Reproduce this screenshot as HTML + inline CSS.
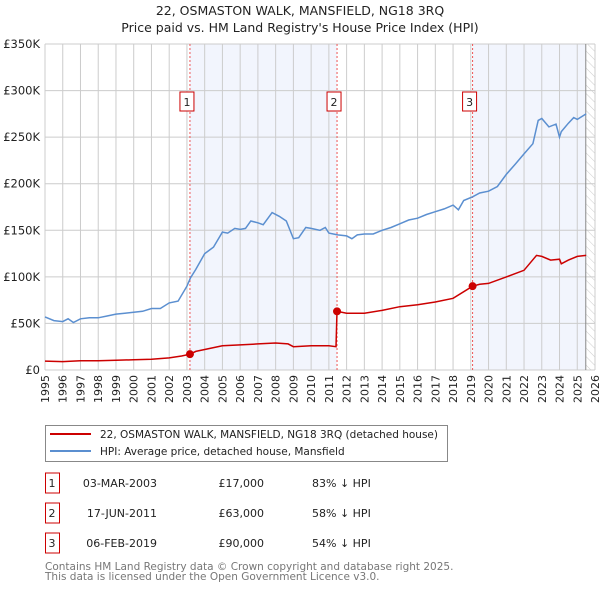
<!DOCTYPE html>
<html><head><meta charset="utf-8"><style>
body{margin:0;background:#fff;font-family:"DejaVu Sans","Liberation Sans",sans-serif;}
svg text{font-family:"DejaVu Sans","Liberation Sans",sans-serif;}
</style></head><body>
<svg id="c" width="600" height="590" xmlns="http://www.w3.org/2000/svg">
<defs><pattern id="hatch" width="6" height="6" patternUnits="userSpaceOnUse" patternTransform="rotate(-45)"><line x1="0" y1="0" x2="0" y2="6" stroke="#ccc" stroke-width="1"/></pattern></defs>
<text x="300" y="15" text-anchor="middle" font-size="12.5" fill="#222">22, OSMASTON WALK, MANSFIELD, NG18 3RQ</text>
<text x="300" y="32" text-anchor="middle" font-size="12.5" fill="#222">Price paid vs. HM Land Registry's House Price Index (HPI)</text>
<g id="plot"></g>
<g>
<rect x="45.5" y="425.5" width="402" height="36" fill="#fff" stroke="#888"/>
<line x1="50" y1="434" x2="91" y2="434" stroke="#cc0000" stroke-width="2"/>
<text x="100" y="438" font-size="10.5" fill="#222">22, OSMASTON WALK, MANSFIELD, NG18 3RQ (detached house)</text>
<line x1="50" y1="451" x2="91" y2="451" stroke="#5b8fd0" stroke-width="2"/>
<text x="100" y="455" font-size="10.5" fill="#222">HPI: Average price, detached house, Mansfield</text>
</g>
<g id="table" font-size="11" fill="#222"></g>
<text x="45" y="570" font-size="10.5" fill="#777">Contains HM Land Registry data © Crown copyright and database right 2025.</text>
<text x="45" y="580" font-size="10.5" fill="#777">This data is licensed under the Open Government Licence v3.0.</text>
</svg>
<script>
const hpiYears=[1995,1995.5,1996,1996.3,1996.6,1997,1997.5,1998,1998.5,1999,1999.5,2000,2000.5,2001,2001.5,2002,2002.5,2003,2003.2,2003.5,2004,2004.5,2005,2005.3,2005.7,2006,2006.3,2006.6,2007,2007.3,2007.8,2008.2,2008.6,2009,2009.3,2009.7,2010,2010.5,2010.8,2011,2011.5,2012,2012.3,2012.6,2013,2013.5,2014,2014.5,2015,2015.5,2016,2016.5,2017,2017.5,2018,2018.3,2018.6,2019.1,2019.5,2020,2020.5,2021,2021.5,2022,2022.5,2022.8,2023,2023.4,2023.8,2024,2024.1,2024.5,2024.8,2025,2025.5];
const hpiValues=[57,53,52,55,51,55,56,56,58,60,61,62,63,66,66,72,74,90,99,108,125,132,148,147,152,151,152,160,158,156,169,165,160,141,142,153,152,150,153,147,145,144,141,145,146,146,150,153,157,161,163,167,170,173,177,172,182,186,190,192,197,210,221,232,243,268,270,261,264,250,256,265,271,269,275];
const ppYears=[1995,1996,1997,1998,1999,2000,2001,2002,2002.7,2003.17,2003.5,2004,2005,2006,2007,2008,2008.7,2009,2010,2011,2011.4,2011.46,2012,2013,2014,2015,2016,2017,2018,2019.1,2019.5,2020,2021,2022,2022.7,2023,2023.5,2024,2024.1,2024.5,2025,2025.5];
const ppValues=[9.6,9,10,10,10.5,11,11.5,13,15,17,20,22,26,27,28,29,28,25,26,26,25,63,61,61,64,68,70,73,77,90,92,93,100,107,123,122,118,119,114,118,122,123];
const saleYears=[2003.17,2011.46,2019.1];
const saleValues=[17,63,90];
const saleLabels=["1","2","3"];
const saleDates=["03-MAR-2003","17-JUN-2011","06-FEB-2019"];
const salePrices=["£17,000","£63,000","£90,000"];
const saleHpi=["83% ↓ HPI","58% ↓ HPI","54% ↓ HPI"];
const yTicks=[0,50,100,150,200,250,300,350];
const yTickLabels=["£0","£50K","£100K","£150K","£200K","£250K","£300K","£350K"];
const xTicks=[1995,1996,1997,1998,1999,2000,2001,2002,2003,2004,2005,2006,2007,2008,2009,2010,2011,2012,2013,2014,2015,2016,2017,2018,2019,2020,2021,2022,2023,2024,2025,2026];
const dataEnd=2025.48;

const L=45,R=595,T=44,B=370;
const X=y=>L+(y-1995)/(2026-1995)*(R-L);
const Y=v=>B-v/350*(B-T);
const NS="http://www.w3.org/2000/svg";
const g=document.getElementById('plot');
function mk(tag,attrs,parent){const e=document.createElementNS(NS,tag);for(const k in attrs)e.setAttribute(k,attrs[k]);(parent||g).appendChild(e);return e;}

let e;
e=mk('rect',{x:L,y:T,width:R-L,height:B-T,fill:'#fff'});


e=mk('rect',{x:X(saleYears[0]),y:T,width:X(saleYears[1])-X(saleYears[0]),height:B-T,fill:'#f2f5fd'});


e=mk('rect',{x:X(saleYears[2]),y:T,width:X(dataEnd)-X(saleYears[2]),height:B-T,fill:'#f2f5fd'});


e=mk('rect',{x:X(dataEnd),y:T,width:R-X(dataEnd),height:B-T,fill:'url(#hatch)'});


xTicks.forEach(t=>{const l=mk('line',{x1:X(t),x2:X(t),y1:T,y2:B,stroke:'#ccc','stroke-width':1});


const tx=mk('text',{x:0,y:0,transform:`translate(${X(t)+4},${B+5}) rotate(-90)`,'text-anchor':'end','font-size':11,fill:'#222'});tx.textContent=t;

});
yTicks.forEach((t,i)=>{const l=mk('line',{x1:L,x2:R,y1:Y(t),y2:Y(t),stroke:'#ccc','stroke-width':1});


const tx=mk('text',{x:L-5,y:Y(t)+4,'text-anchor':'end','font-size':11.5,fill:'#222'});tx.textContent=yTickLabels[i];

});
e=mk('line',{x1:X(dataEnd),x2:X(dataEnd),y1:T,y2:B,stroke:'#888','stroke-width':1});


saleYears.forEach((s,i)=>{const l=mk('line',{x1:X(s),x2:X(s),y1:T,y2:B,stroke:'#e55','stroke-width':1,'stroke-dasharray':'2,2'});


const b=mk('rect',{x:X(s)-10,y:92,width:14,height:19,fill:'#fff',stroke:'#c00','stroke-width':1});


const t=mk('text',{x:X(s)-3,y:106,'text-anchor':'middle','font-size':11,fill:'#222'});t.textContent=saleLabels[i];

});
const pts=(xs,vs)=>xs.map((x,i)=>X(x).toFixed(1)+','+Y(vs[i]).toFixed(1)).join(' ');
e=mk('polyline',{points:pts(hpiYears,hpiValues),fill:'none',stroke:'#5b8fd0','stroke-width':1.5});


e=mk('polyline',{points:pts(ppYears,ppValues),fill:'none',stroke:'#cc0000','stroke-width':1.5});


saleYears.forEach((s,i)=>{const c=mk('circle',{cx:X(s),cy:Y(saleValues[i]),r:4,fill:'#cc0000'});

});
const tb=document.getElementById('table');
saleYears.forEach((s,i)=>{const y=483+i*30;
const b=mk('rect',{x:45.5,y:y-10,width:14,height:20,fill:'#fff',stroke:'#c00'},tb);


const cols=[[52,saleLabels[i],'middle'],[157,saleDates[i],'end'],[264,salePrices[i],'end'],[312,saleHpi[i],'start']];
cols.forEach(c=>{const t=mk('text',{x:c[0],y:y+4,'text-anchor':c[2]},tb);t.textContent=c[1];

});});
</script>
</body></html>
